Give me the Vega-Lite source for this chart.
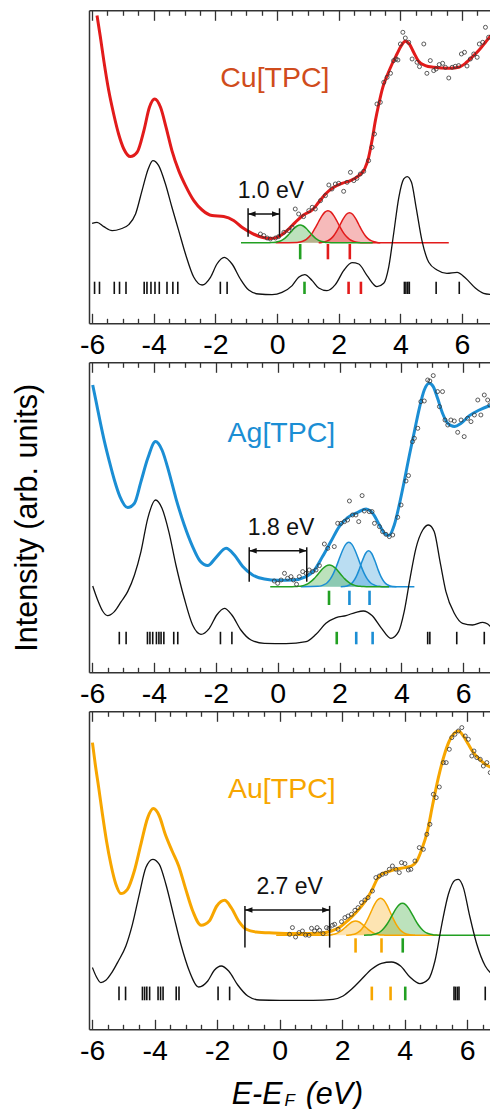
{
"$schema": "https://vega.github.io/schema/vega-lite/v6.json",
"padding": {"left": 12, "top": 9.3, "right": 0, "bottom": 0},
"spacing": 1,
"config": {"view": {"stroke": null}, "font": "Liberation Sans", "axis": {"grid": false}},
"datasets": {
"cu_line": [{"x":-5.84,"y":307.7},{"x":-5.73,"y":286},{"x":-5.62,"y":262.7},{"x":-5.46,"y":232.7},{"x":-5.3,"y":209.3},{"x":-5.14,"y":189.3},{"x":-4.97,"y":174.3},{"x":-4.76,"y":166.7},{"x":-4.54,"y":171},{"x":-4.32,"y":192.7},{"x":-4.14,"y":216},{"x":-3.97,"y":224.3},{"x":-3.78,"y":216},{"x":-3.6,"y":196},{"x":-3.41,"y":172.7},{"x":-3.19,"y":152.7},{"x":-2.97,"y":137.7},{"x":-2.7,"y":122.7},{"x":-2.43,"y":113.3},{"x":-2.11,"y":107.7},{"x":-1.73,"y":106.7},{"x":-1.41,"y":102.7},{"x":-1.14,"y":96},{"x":-0.81,"y":90},{"x":-0.49,"y":86},{"x":-0.22,"y":84.7},{"x":0.05,"y":86.7},{"x":0.32,"y":92.7},{"x":0.59,"y":101},{"x":0.86,"y":108.3},{"x":1.14,"y":113.3},{"x":1.35,"y":121},{"x":1.57,"y":129.3},{"x":1.84,"y":136},{"x":2.11,"y":140},{"x":2.38,"y":142.7},{"x":2.65,"y":147.7},{"x":2.84,"y":154.3},{"x":2.97,"y":166},{"x":3.08,"y":182.7},{"x":3.19,"y":202.7},{"x":3.3,"y":219.3},{"x":3.43,"y":236},{"x":3.57,"y":247.7},{"x":3.73,"y":259.3},{"x":3.89,"y":269.3},{"x":4.03,"y":277.7},{"x":4.16,"y":282},{"x":4.29,"y":279.3},{"x":4.43,"y":271},{"x":4.59,"y":262},{"x":4.81,"y":257.7},{"x":5.08,"y":256},{"x":5.35,"y":255.3},{"x":5.62,"y":255},{"x":5.89,"y":256},{"x":6.11,"y":260},{"x":6.32,"y":266},{"x":6.54,"y":272.7},{"x":6.76,"y":281},{"x":6.93,"y":287.7},{"x":7.08,"y":292.7}],
"cu_dos": [{"x":-6.0,"y":100},{"x":-5.84,"y":101},{"x":-5.62,"y":96.7},{"x":-5.35,"y":92.7},{"x":-5.08,"y":94.3},{"x":-4.81,"y":98.7},{"x":-4.59,"y":109.3},{"x":-4.38,"y":132.7},{"x":-4.18,"y":154.3},{"x":-4.03,"y":162.7},{"x":-3.84,"y":157.7},{"x":-3.62,"y":139.3},{"x":-3.41,"y":116},{"x":-3.19,"y":92.7},{"x":-2.97,"y":69.3},{"x":-2.7,"y":46},{"x":-2.43,"y":38.3},{"x":-2.16,"y":46},{"x":-1.95,"y":59.3},{"x":-1.71,"y":66},{"x":-1.46,"y":59.3},{"x":-1.19,"y":44.3},{"x":-0.92,"y":33.3},{"x":-0.59,"y":29.3},{"x":-0.16,"y":28.7},{"x":0.16,"y":31},{"x":0.49,"y":37.7},{"x":0.7,"y":46},{"x":0.9,"y":48.7},{"x":1.14,"y":42.7},{"x":1.35,"y":35.3},{"x":1.62,"y":32.7},{"x":1.89,"y":38.7},{"x":2.16,"y":52.7},{"x":2.43,"y":60.7},{"x":2.65,"y":59.3},{"x":2.92,"y":47.7},{"x":3.24,"y":36.7},{"x":3.46,"y":40},{"x":3.62,"y":56},{"x":3.78,"y":89.3},{"x":3.95,"y":126},{"x":4.11,"y":144.3},{"x":4.22,"y":146.7},{"x":4.36,"y":141},{"x":4.51,"y":116},{"x":4.7,"y":82.7},{"x":4.92,"y":61},{"x":5.19,"y":53.3},{"x":5.51,"y":50},{"x":5.84,"y":51},{"x":6.11,"y":45.3},{"x":6.43,"y":35.3},{"x":6.7,"y":30},{"x":6.97,"y":28.7}],
"cu_pts": [{"x":-0.54,"y":89.3},{"x":-0.43,"y":87.7},{"x":-0.32,"y":85.3},{"x":-0.22,"y":84.3},{"x":-0.05,"y":85.3},{"x":0.05,"y":86.7},{"x":0.22,"y":91},{"x":0.38,"y":92.7},{"x":0.49,"y":96},{"x":0.59,"y":114.3},{"x":0.7,"y":109.3},{"x":0.86,"y":106.7},{"x":1.03,"y":112.7},{"x":1.14,"y":116},{"x":1.24,"y":114.3},{"x":1.41,"y":122.7},{"x":1.57,"y":127.7},{"x":1.68,"y":138.3},{"x":1.78,"y":134.3},{"x":1.89,"y":139.3},{"x":2.0,"y":140},{"x":2.16,"y":132},{"x":2.27,"y":141},{"x":2.38,"y":151},{"x":2.49,"y":142.7},{"x":2.59,"y":145},{"x":2.7,"y":149.3},{"x":2.81,"y":152},{"x":2.97,"y":162.7},{"x":3.08,"y":176},{"x":3.16,"y":189.3},{"x":3.24,"y":219.3},{"x":3.35,"y":221},{"x":3.46,"y":241},{"x":3.57,"y":246},{"x":3.68,"y":250},{"x":3.78,"y":262.7},{"x":3.86,"y":264.3},{"x":3.92,"y":263.3},{"x":4.0,"y":279.3},{"x":4.08,"y":291},{"x":4.16,"y":285.3},{"x":4.27,"y":281},{"x":4.38,"y":264.3},{"x":4.54,"y":261},{"x":4.62,"y":256.7},{"x":4.76,"y":279.3},{"x":4.86,"y":250},{"x":4.97,"y":262.7},{"x":5.08,"y":252.7},{"x":5.16,"y":254.3},{"x":5.26,"y":258.7},{"x":5.37,"y":260},{"x":5.46,"y":256},{"x":5.57,"y":245.3},{"x":5.68,"y":256},{"x":5.78,"y":257},{"x":5.89,"y":257.7},{"x":5.98,"y":269.3},{"x":6.08,"y":271},{"x":6.16,"y":257.3},{"x":6.27,"y":264.3},{"x":6.38,"y":269.3},{"x":6.49,"y":266},{"x":6.56,"y":279.3},{"x":6.67,"y":281},{"x":6.76,"y":296},{"x":6.86,"y":286}],
"cu_gauss": [
{"pk":"cu1","band":"Cu","x":-0.05,"y":80.6},{"pk":"cu1","band":"Cu","x":0.65,"y":80.9},{"pk":"cu1","band":"Cu","x":0.75,"y":81.4},{"pk":"cu1","band":"Cu","x":0.85,"y":82.3},{"pk":"cu1","band":"Cu","x":0.95,"y":84.0},{"pk":"cu1","band":"Cu","x":1.05,"y":86.7},{"pk":"cu1","band":"Cu","x":1.15,"y":90.7},{"pk":"cu1","band":"Cu","x":1.25,"y":96.0},{"pk":"cu1","band":"Cu","x":1.35,"y":101.8},{"pk":"cu1","band":"Cu","x":1.45,"y":107.2},{"pk":"cu1","band":"Cu","x":1.55,"y":111.2},{"pk":"cu1","band":"Cu","x":1.65,"y":112.6},{"pk":"cu1","band":"Cu","x":1.75,"y":111.2},{"pk":"cu1","band":"Cu","x":1.85,"y":107.2},{"pk":"cu1","band":"Cu","x":1.95,"y":101.8},{"pk":"cu1","band":"Cu","x":2.05,"y":96.0},{"pk":"cu1","band":"Cu","x":2.15,"y":90.7},{"pk":"cu1","band":"Cu","x":2.25,"y":86.7},{"pk":"cu1","band":"Cu","x":2.35,"y":84.0},{"pk":"cu1","band":"Cu","x":2.45,"y":82.3},{"pk":"cu1","band":"Cu","x":2.55,"y":81.4},{"pk":"cu1","band":"Cu","x":2.65,"y":80.9},{"pk":"cu1","band":"Cu","x":2.75,"y":80.6},{"pk":"cu1","band":"Cu","x":5.57,"y":80.6},
{"pk":"cu2","band":"Cu","x":1.35,"y":80.6},{"pk":"cu2","band":"Cu","x":1.45,"y":80.9},{"pk":"cu2","band":"Cu","x":1.55,"y":81.5},{"pk":"cu2","band":"Cu","x":1.65,"y":82.6},{"pk":"cu2","band":"Cu","x":1.75,"y":84.7},{"pk":"cu2","band":"Cu","x":1.85,"y":88.1},{"pk":"cu2","band":"Cu","x":1.95,"y":92.9},{"pk":"cu2","band":"Cu","x":2.05,"y":98.8},{"pk":"cu2","band":"Cu","x":2.15,"y":104.6},{"pk":"cu2","band":"Cu","x":2.25,"y":109.0},{"pk":"cu2","band":"Cu","x":2.35,"y":110.6},{"pk":"cu2","band":"Cu","x":2.45,"y":109.0},{"pk":"cu2","band":"Cu","x":2.55,"y":104.6},{"pk":"cu2","band":"Cu","x":2.65,"y":98.8},{"pk":"cu2","band":"Cu","x":2.75,"y":92.9},{"pk":"cu2","band":"Cu","x":2.85,"y":88.1},{"pk":"cu2","band":"Cu","x":2.95,"y":84.7},{"pk":"cu2","band":"Cu","x":3.05,"y":82.6},{"pk":"cu2","band":"Cu","x":3.15,"y":81.5},{"pk":"cu2","band":"Cu","x":3.25,"y":80.9},{"pk":"cu2","band":"Cu","x":3.35,"y":80.6},
{"pk":"cug","band":"green","x":-1.17,"y":80.6},{"pk":"cug","band":"green","x":-0.25,"y":80.6},{"pk":"cug","band":"green","x":-0.15,"y":80.8},{"pk":"cug","band":"green","x":-0.05,"y":81.1},{"pk":"cug","band":"green","x":0.05,"y":81.8},{"pk":"cug","band":"green","x":0.15,"y":83.0},{"pk":"cug","band":"green","x":0.25,"y":85.0},{"pk":"cug","band":"green","x":0.35,"y":87.9},{"pk":"cug","band":"green","x":0.45,"y":91.3},{"pk":"cug","band":"green","x":0.55,"y":94.8},{"pk":"cug","band":"green","x":0.65,"y":97.3},{"pk":"cug","band":"green","x":0.75,"y":98.3},{"pk":"cug","band":"green","x":0.85,"y":97.3},{"pk":"cug","band":"green","x":0.95,"y":94.8},{"pk":"cug","band":"green","x":1.05,"y":91.3},{"pk":"cug","band":"green","x":1.15,"y":87.9},{"pk":"cug","band":"green","x":1.25,"y":85.0},{"pk":"cug","band":"green","x":1.35,"y":83.0},{"pk":"cug","band":"green","x":1.45,"y":81.8},{"pk":"cug","band":"green","x":1.55,"y":81.1},{"pk":"cug","band":"green","x":1.65,"y":80.8},{"pk":"cug","band":"green","x":1.75,"y":80.6},{"pk":"cug","band":"green","x":3.1,"y":80.6}],
"cu_sb": [{"x":-5.92},{"x":-5.76},{"x":-5.28},{"x":-5.11},{"x":-4.9},{"x":-4.31},{"x":-4.22},{"x":-4.09},{"x":-3.96},{"x":-3.82},{"x":-3.57},{"x":-3.38},{"x":-3.22},{"x":-1.84},{"x":-1.62},{"x":4.13},{"x":4.18},{"x":4.24},{"x":4.29},{"x":5.16},{"x":5.91}],
"cu_sc": [{"x":0.89,"band":"green"},{"x":2.32,"band":"Cu"},{"x":2.72,"band":"Cu"}],
"cu_su": [{"x":0.75,"band":"green"},{"x":1.65,"band":"Cu"},{"x":2.36,"band":"Cu"}],
"cu_brk": [{"x":-0.94,"end":"left"},{"x":0.08,"end":"right"}],
"cu_lab": [{"x":-0.2,"text":"1.0 eV"}],
"cu_name": [{"x":-0.07,"text":"Cu[TPC]"}],
"ag_line": [{"x":-5.98,"y":287.3},{"x":-5.87,"y":270.7},{"x":-5.74,"y":250.7},{"x":-5.6,"y":230.7},{"x":-5.44,"y":210.7},{"x":-5.28,"y":192.3},{"x":-5.1,"y":175.7},{"x":-4.85,"y":164.7},{"x":-4.63,"y":169},{"x":-4.42,"y":190.7},{"x":-4.2,"y":214},{"x":-3.95,"y":230.7},{"x":-3.74,"y":222.3},{"x":-3.52,"y":200.7},{"x":-3.29,"y":174},{"x":-3.02,"y":147.3},{"x":-2.75,"y":125.7},{"x":-2.51,"y":111.3},{"x":-2.26,"y":106.7},{"x":-1.99,"y":115},{"x":-1.67,"y":124},{"x":-1.4,"y":117.3},{"x":-1.13,"y":105.7},{"x":-0.81,"y":97.3},{"x":-0.43,"y":93.3},{"x":0.0,"y":92},{"x":0.48,"y":92.3},{"x":0.92,"y":95.7},{"x":1.19,"y":102.3},{"x":1.45,"y":115.7},{"x":1.72,"y":130.7},{"x":1.99,"y":145.7},{"x":2.26,"y":154.7},{"x":2.59,"y":160},{"x":2.86,"y":163.3},{"x":3.07,"y":159},{"x":3.29,"y":147.3},{"x":3.45,"y":139},{"x":3.59,"y":136.7},{"x":3.77,"y":147.3},{"x":3.93,"y":167.3},{"x":4.09,"y":190.7},{"x":4.26,"y":217.3},{"x":4.42,"y":240.7},{"x":4.58,"y":264},{"x":4.74,"y":282.3},{"x":4.9,"y":289},{"x":5.03,"y":285.7},{"x":5.17,"y":274},{"x":5.33,"y":259},{"x":5.5,"y":249},{"x":5.71,"y":245.7},{"x":5.93,"y":249},{"x":6.2,"y":256.7},{"x":6.52,"y":262.3},{"x":6.91,"y":267.3},{"x":7.06,"y":269}],
"ag_dos": [{"x":-5.98,"y":86.3},{"x":-5.82,"y":72.3},{"x":-5.66,"y":61.3},{"x":-5.5,"y":56.7},{"x":-5.28,"y":60.7},{"x":-5.06,"y":70.7},{"x":-4.85,"y":80.7},{"x":-4.63,"y":97.3},{"x":-4.42,"y":120.7},{"x":-4.2,"y":154},{"x":-3.95,"y":172.3},{"x":-3.74,"y":164},{"x":-3.52,"y":140.7},{"x":-3.29,"y":107.3},{"x":-3.02,"y":74},{"x":-2.75,"y":47.3},{"x":-2.48,"y":38},{"x":-2.21,"y":44},{"x":-1.97,"y":57.3},{"x":-1.72,"y":64},{"x":-1.48,"y":57.3},{"x":-1.19,"y":42.3},{"x":-0.86,"y":32.3},{"x":-0.43,"y":29},{"x":0.27,"y":28.7},{"x":0.92,"y":30.7},{"x":1.24,"y":38},{"x":1.56,"y":49},{"x":1.89,"y":54.7},{"x":2.21,"y":56.7},{"x":2.53,"y":60},{"x":2.77,"y":61.3},{"x":3.05,"y":56.7},{"x":3.34,"y":44.7},{"x":3.66,"y":34},{"x":3.91,"y":40.7},{"x":4.09,"y":60.7},{"x":4.28,"y":94},{"x":4.47,"y":124},{"x":4.69,"y":142.3},{"x":4.88,"y":147.3},{"x":5.06,"y":140.7},{"x":5.25,"y":110.7},{"x":5.44,"y":80.7},{"x":5.71,"y":59},{"x":5.98,"y":49},{"x":6.3,"y":47.3},{"x":6.63,"y":50},{"x":6.79,"y":48.3},{"x":6.95,"y":43.3}],
"ag_pts": [{"x":-0.11,"y":91.3},{"x":0.0,"y":89},{"x":0.11,"y":92.3},{"x":0.22,"y":99},{"x":0.32,"y":94},{"x":0.43,"y":95.7},{"x":0.51,"y":92.3},{"x":0.61,"y":88},{"x":0.7,"y":95.7},{"x":0.81,"y":100.7},{"x":0.92,"y":99},{"x":1.02,"y":102.3},{"x":1.13,"y":100.7},{"x":1.24,"y":102.3},{"x":1.35,"y":106.7},{"x":1.51,"y":128.3},{"x":1.62,"y":124},{"x":1.83,"y":125.7},{"x":1.94,"y":149},{"x":2.05,"y":149},{"x":2.16,"y":150.7},{"x":2.26,"y":152.3},{"x":2.32,"y":171.3},{"x":2.42,"y":157.3},{"x":2.53,"y":157.3},{"x":2.62,"y":150.7},{"x":2.73,"y":176.7},{"x":2.8,"y":161.3},{"x":2.96,"y":160.7},{"x":3.05,"y":160.7},{"x":3.13,"y":149},{"x":3.29,"y":145.7},{"x":3.39,"y":140.7},{"x":3.5,"y":138},{"x":3.61,"y":135.7},{"x":3.72,"y":137.3},{"x":3.88,"y":155},{"x":3.99,"y":167.3},{"x":4.15,"y":191.3},{"x":4.23,"y":196.7},{"x":4.36,"y":230.7},{"x":4.42,"y":234},{"x":4.53,"y":244},{"x":4.63,"y":270.7},{"x":4.74,"y":271.3},{"x":4.85,"y":292.3},{"x":4.92,"y":291.3},{"x":5.03,"y":296.7},{"x":5.17,"y":280.7},{"x":5.23,"y":265.7},{"x":5.33,"y":280.7},{"x":5.41,"y":252.3},{"x":5.5,"y":247.3},{"x":5.6,"y":252.3},{"x":5.71,"y":251.3},{"x":5.82,"y":240},{"x":5.93,"y":252.3},{"x":6.03,"y":235.7},{"x":6.14,"y":254},{"x":6.25,"y":250.7},{"x":6.36,"y":257.3},{"x":6.47,"y":272.3},{"x":6.57,"y":257.3},{"x":6.68,"y":277.3},{"x":6.79,"y":272.3},{"x":6.86,"y":267.3}],
"ag_gauss": [
{"pk":"ag1","band":"Ag","x":0.75,"y":85.6},{"pk":"ag1","band":"Ag","x":1.3,"y":86.0},{"pk":"ag1","band":"Ag","x":1.4,"y":86.4},{"pk":"ag1","band":"Ag","x":1.5,"y":87.6},{"pk":"ag1","band":"Ag","x":1.6,"y":89.6},{"pk":"ag1","band":"Ag","x":1.7,"y":93.2},{"pk":"ag1","band":"Ag","x":1.8,"y":98.7},{"pk":"ag1","band":"Ag","x":1.9,"y":105.9},{"pk":"ag1","band":"Ag","x":2.0,"y":114.2},{"pk":"ag1","band":"Ag","x":2.1,"y":122.1},{"pk":"ag1","band":"Ag","x":2.2,"y":127.9},{"pk":"ag1","band":"Ag","x":2.3,"y":130.0},{"pk":"ag1","band":"Ag","x":2.4,"y":127.9},{"pk":"ag1","band":"Ag","x":2.5,"y":122.1},{"pk":"ag1","band":"Ag","x":2.6,"y":114.2},{"pk":"ag1","band":"Ag","x":2.7,"y":105.9},{"pk":"ag1","band":"Ag","x":2.8,"y":98.7},{"pk":"ag1","band":"Ag","x":2.9,"y":93.2},{"pk":"ag1","band":"Ag","x":3.0,"y":89.6},{"pk":"ag1","band":"Ag","x":3.1,"y":87.6},{"pk":"ag1","band":"Ag","x":3.2,"y":86.4},{"pk":"ag1","band":"Ag","x":3.3,"y":86.0},{"pk":"ag1","band":"Ag","x":3.4,"y":85.6},{"pk":"ag1","band":"Ag","x":4.42,"y":85.6},
{"pk":"ag2","band":"Ag","x":2.04,"y":85.6},{"pk":"ag2","band":"Ag","x":2.14,"y":85.8},{"pk":"ag2","band":"Ag","x":2.24,"y":86.3},{"pk":"ag2","band":"Ag","x":2.34,"y":87.6},{"pk":"ag2","band":"Ag","x":2.44,"y":90.5},{"pk":"ag2","band":"Ag","x":2.54,"y":95.6},{"pk":"ag2","band":"Ag","x":2.64,"y":103.1},{"pk":"ag2","band":"Ag","x":2.74,"y":111.7},{"pk":"ag2","band":"Ag","x":2.84,"y":118.8},{"pk":"ag2","band":"Ag","x":2.94,"y":121.6},{"pk":"ag2","band":"Ag","x":3.04,"y":118.8},{"pk":"ag2","band":"Ag","x":3.14,"y":111.7},{"pk":"ag2","band":"Ag","x":3.24,"y":103.1},{"pk":"ag2","band":"Ag","x":3.34,"y":95.6},{"pk":"ag2","band":"Ag","x":3.44,"y":90.5},{"pk":"ag2","band":"Ag","x":3.54,"y":87.6},{"pk":"ag2","band":"Ag","x":3.64,"y":86.3},{"pk":"ag2","band":"Ag","x":3.74,"y":85.8},{"pk":"ag2","band":"Ag","x":3.84,"y":85.6},
{"pk":"agg","band":"green","x":-0.24,"y":85.6},{"pk":"agg","band":"green","x":0.47,"y":85.6},{"pk":"agg","band":"green","x":0.57,"y":85.75},{"pk":"agg","band":"green","x":0.67,"y":86.0},{"pk":"agg","band":"green","x":0.77,"y":86.4},{"pk":"agg","band":"green","x":0.87,"y":87.2},{"pk":"agg","band":"green","x":0.97,"y":88.5},{"pk":"agg","band":"green","x":1.07,"y":90.6},{"pk":"agg","band":"green","x":1.17,"y":93.4},{"pk":"agg","band":"green","x":1.27,"y":96.9},{"pk":"agg","band":"green","x":1.37,"y":100.6},{"pk":"agg","band":"green","x":1.47,"y":104.0},{"pk":"agg","band":"green","x":1.57,"y":106.4},{"pk":"agg","band":"green","x":1.67,"y":107.3},{"pk":"agg","band":"green","x":1.77,"y":106.4},{"pk":"agg","band":"green","x":1.87,"y":104.0},{"pk":"agg","band":"green","x":1.97,"y":100.6},{"pk":"agg","band":"green","x":2.07,"y":96.9},{"pk":"agg","band":"green","x":2.17,"y":93.4},{"pk":"agg","band":"green","x":2.27,"y":90.6},{"pk":"agg","band":"green","x":2.37,"y":88.5},{"pk":"agg","band":"green","x":2.47,"y":87.2},{"pk":"agg","band":"green","x":2.57,"y":86.4},{"pk":"agg","band":"green","x":2.67,"y":86.0},{"pk":"agg","band":"green","x":2.77,"y":85.75},{"pk":"agg","band":"green","x":2.87,"y":85.6},{"pk":"agg","band":"green","x":3.6,"y":85.6}],
"ag_sb": [{"x":-5.12},{"x":-4.9},{"x":-4.21},{"x":-4.13},{"x":-4.04},{"x":-3.92},{"x":-3.84},{"x":-3.77},{"x":-3.68},{"x":-3.36},{"x":-3.23},{"x":-1.85},{"x":-1.48},{"x":4.85},{"x":4.92},{"x":5.79},{"x":6.68}],
"ag_sc": [{"x":1.91,"band":"green"},{"x":2.54,"band":"Ag"},{"x":3.07,"band":"Ag"}],
"ag_su": [{"x":1.66,"band":"green"},{"x":2.32,"band":"Ag"},{"x":2.97,"band":"Ag"}],
"ag_brk": [{"x":-0.92,"end":"left"},{"x":0.94,"end":"right"}],
"ag_lab": [{"x":0.11,"text":"1.8 eV"}],
"ag_name": [{"x":0.12,"text":"Ag[TPC]"}],
"au_line": [{"x":-5.99,"y":286.7},{"x":-5.9,"y":265},{"x":-5.79,"y":241.7},{"x":-5.67,"y":215},{"x":-5.54,"y":188.3},{"x":-5.4,"y":165},{"x":-5.24,"y":145},{"x":-5.08,"y":135.7},{"x":-4.87,"y":140},{"x":-4.65,"y":158.3},{"x":-4.44,"y":185},{"x":-4.22,"y":211.7},{"x":-4.04,"y":220.7},{"x":-3.85,"y":213.3},{"x":-3.66,"y":195},{"x":-3.44,"y":178.3},{"x":-3.23,"y":163.3},{"x":-3.02,"y":141.7},{"x":-2.78,"y":118.3},{"x":-2.51,"y":104},{"x":-2.25,"y":108.3},{"x":-2.01,"y":123.3},{"x":-1.76,"y":129},{"x":-1.55,"y":121.7},{"x":-1.3,"y":107.7},{"x":-1.07,"y":100},{"x":-0.75,"y":97.3},{"x":-0.21,"y":96.3},{"x":0.53,"y":95.7},{"x":1.28,"y":96},{"x":1.66,"y":98.3},{"x":1.93,"y":102.3},{"x":2.19,"y":109},{"x":2.46,"y":117.3},{"x":2.73,"y":127.7},{"x":2.94,"y":138.3},{"x":3.12,"y":150},{"x":3.26,"y":155},{"x":3.48,"y":157.7},{"x":3.74,"y":160.3},{"x":4.01,"y":161.7},{"x":4.22,"y":163.3},{"x":4.39,"y":168.3},{"x":4.55,"y":180},{"x":4.73,"y":198.3},{"x":4.9,"y":225},{"x":5.08,"y":251.7},{"x":5.26,"y":273.3},{"x":5.43,"y":288.3},{"x":5.58,"y":295.7},{"x":5.72,"y":298.3},{"x":5.88,"y":293.3},{"x":6.04,"y":285},{"x":6.2,"y":276.7},{"x":6.4,"y":270},{"x":6.58,"y":265},{"x":6.8,"y":261.7}],
"au_dos": [{"x":-5.99,"y":61.7},{"x":-5.86,"y":52.3},{"x":-5.72,"y":46.7},{"x":-5.56,"y":49},{"x":-5.37,"y":56.7},{"x":-5.16,"y":68.3},{"x":-4.92,"y":83.3},{"x":-4.71,"y":105},{"x":-4.49,"y":135},{"x":-4.28,"y":161.7},{"x":-4.06,"y":170},{"x":-3.85,"y":165},{"x":-3.64,"y":145},{"x":-3.4,"y":115},{"x":-3.16,"y":85},{"x":-2.89,"y":58.3},{"x":-2.59,"y":42.3},{"x":-2.3,"y":48.3},{"x":-2.09,"y":59},{"x":-1.87,"y":63.3},{"x":-1.63,"y":58.3},{"x":-1.34,"y":44.3},{"x":-1.02,"y":33.3},{"x":-0.64,"y":29.3},{"x":0.0,"y":29},{"x":1.07,"y":29},{"x":1.71,"y":30},{"x":2.03,"y":33.3},{"x":2.3,"y":40},{"x":2.62,"y":50},{"x":2.94,"y":60},{"x":3.26,"y":66},{"x":3.58,"y":67.3},{"x":3.87,"y":63.3},{"x":4.17,"y":52.3},{"x":4.49,"y":45.7},{"x":4.76,"y":50},{"x":4.97,"y":68.3},{"x":5.19,"y":105},{"x":5.4,"y":135},{"x":5.61,"y":149},{"x":5.72,"y":150},{"x":5.88,"y":141.7},{"x":6.07,"y":115},{"x":6.31,"y":85},{"x":6.58,"y":63.3},{"x":6.8,"y":55}],
"au_pts": [{"x":0.32,"y":95},{"x":0.41,"y":101.7},{"x":0.51,"y":92.3},{"x":0.62,"y":96.7},{"x":0.73,"y":98.3},{"x":0.83,"y":94.3},{"x":0.94,"y":94},{"x":1.02,"y":101},{"x":1.12,"y":98.3},{"x":1.2,"y":101.7},{"x":1.28,"y":99},{"x":1.39,"y":95.7},{"x":1.5,"y":101.7},{"x":1.58,"y":101},{"x":1.69,"y":104},{"x":1.76,"y":105},{"x":1.87,"y":100},{"x":1.98,"y":107.7},{"x":2.09,"y":111.7},{"x":2.19,"y":113.3},{"x":2.3,"y":115},{"x":2.41,"y":119},{"x":2.51,"y":121.7},{"x":2.62,"y":126.7},{"x":2.73,"y":129.3},{"x":2.83,"y":131.7},{"x":2.97,"y":138.3},{"x":3.08,"y":151.7},{"x":3.19,"y":153.3},{"x":3.29,"y":155},{"x":3.4,"y":156},{"x":3.51,"y":160},{"x":3.61,"y":163.3},{"x":3.72,"y":160},{"x":3.83,"y":156.7},{"x":3.9,"y":166.7},{"x":4.01,"y":165.7},{"x":4.12,"y":159.3},{"x":4.2,"y":160},{"x":4.33,"y":168.3},{"x":4.47,"y":181.7},{"x":4.6,"y":180},{"x":4.71,"y":195},{"x":4.81,"y":205},{"x":4.92,"y":235},{"x":5.01,"y":231.7},{"x":5.11,"y":242.3},{"x":5.24,"y":266.7},{"x":5.33,"y":266.7},{"x":5.43,"y":280},{"x":5.51,"y":291.7},{"x":5.61,"y":295},{"x":5.72,"y":298.3},{"x":5.83,"y":301.7},{"x":5.94,"y":293.3},{"x":6.04,"y":290},{"x":6.15,"y":273.3},{"x":6.22,"y":278.3},{"x":6.31,"y":271.7},{"x":6.42,"y":270},{"x":6.52,"y":263.3},{"x":6.63,"y":266.7},{"x":6.74,"y":256.7}],
"au_gauss": [
{"pk":"au1","band":"Au","x":-0.11,"y":94},{"pk":"au1","band":"Au","x":1.43,"y":94},{"pk":"au1","band":"Au","x":1.53,"y":94.2},{"pk":"au1","band":"Au","x":1.63,"y":94.4},{"pk":"au1","band":"Au","x":1.73,"y":95.0},{"pk":"au1","band":"Au","x":1.83,"y":95.9},{"pk":"au1","band":"Au","x":1.93,"y":97.6},{"pk":"au1","band":"Au","x":2.03,"y":99.9},{"pk":"au1","band":"Au","x":2.13,"y":102.7},{"pk":"au1","band":"Au","x":2.23,"y":105.5},{"pk":"au1","band":"Au","x":2.33,"y":107.6},{"pk":"au1","band":"Au","x":2.43,"y":108.4},{"pk":"au1","band":"Au","x":2.53,"y":107.6},{"pk":"au1","band":"Au","x":2.63,"y":105.5},{"pk":"au1","band":"Au","x":2.73,"y":102.7},{"pk":"au1","band":"Au","x":2.83,"y":99.9},{"pk":"au1","band":"Au","x":2.93,"y":97.6},{"pk":"au1","band":"Au","x":3.03,"y":95.9},{"pk":"au1","band":"Au","x":3.13,"y":95.0},{"pk":"au1","band":"Au","x":3.23,"y":94.4},{"pk":"au1","band":"Au","x":3.33,"y":94.2},{"pk":"au1","band":"Au","x":3.43,"y":94},{"pk":"au1","band":"Au","x":5.12,"y":94},
{"pk":"au2","band":"Au","x":2.13,"y":94},{"pk":"au2","band":"Au","x":2.23,"y":94.3},{"pk":"au2","band":"Au","x":2.33,"y":94.7},{"pk":"au2","band":"Au","x":2.43,"y":95.6},{"pk":"au2","band":"Au","x":2.53,"y":97.4},{"pk":"au2","band":"Au","x":2.63,"y":100.4},{"pk":"au2","band":"Au","x":2.73,"y":104.9},{"pk":"au2","band":"Au","x":2.83,"y":110.9},{"pk":"au2","band":"Au","x":2.93,"y":117.8},{"pk":"au2","band":"Au","x":3.03,"y":124.5},{"pk":"au2","band":"Au","x":3.13,"y":129.2},{"pk":"au2","band":"Au","x":3.23,"y":131},{"pk":"au2","band":"Au","x":3.33,"y":129.2},{"pk":"au2","band":"Au","x":3.43,"y":124.5},{"pk":"au2","band":"Au","x":3.53,"y":117.8},{"pk":"au2","band":"Au","x":3.63,"y":110.9},{"pk":"au2","band":"Au","x":3.73,"y":104.9},{"pk":"au2","band":"Au","x":3.83,"y":100.4},{"pk":"au2","band":"Au","x":3.93,"y":97.4},{"pk":"au2","band":"Au","x":4.03,"y":95.6},{"pk":"au2","band":"Au","x":4.13,"y":94.7},{"pk":"au2","band":"Au","x":4.23,"y":94.3},{"pk":"au2","band":"Au","x":4.33,"y":94.0},
{"pk":"aug","band":"green","x":2.7,"y":94},{"pk":"aug","band":"green","x":2.83,"y":94.2},{"pk":"aug","band":"green","x":2.93,"y":94.4},{"pk":"aug","band":"green","x":3.03,"y":95.0},{"pk":"aug","band":"green","x":3.13,"y":96.0},{"pk":"aug","band":"green","x":3.23,"y":97.8},{"pk":"aug","band":"green","x":3.33,"y":100.8},{"pk":"aug","band":"green","x":3.43,"y":104.8},{"pk":"aug","band":"green","x":3.53,"y":110.0},{"pk":"aug","band":"green","x":3.63,"y":115.7},{"pk":"aug","band":"green","x":3.73,"y":120.9},{"pk":"aug","band":"green","x":3.83,"y":124.7},{"pk":"aug","band":"green","x":3.93,"y":126},{"pk":"aug","band":"green","x":4.03,"y":124.7},{"pk":"aug","band":"green","x":4.13,"y":120.9},{"pk":"aug","band":"green","x":4.23,"y":115.7},{"pk":"aug","band":"green","x":4.33,"y":110.0},{"pk":"aug","band":"green","x":4.43,"y":104.8},{"pk":"aug","band":"green","x":4.53,"y":100.8},{"pk":"aug","band":"green","x":4.63,"y":97.8},{"pk":"aug","band":"green","x":4.73,"y":96.0},{"pk":"aug","band":"green","x":4.83,"y":95.0},{"pk":"aug","band":"green","x":4.93,"y":94.4},{"pk":"aug","band":"green","x":5.03,"y":94.2},{"pk":"aug","band":"green","x":5.13,"y":94},{"pk":"aug","band":"green","x":7.0,"y":94}],
"au_sb": [{"x":-5.14},{"x":-4.93},{"x":-4.39},{"x":-4.32},{"x":-4.25},{"x":-4.16},{"x":-3.89},{"x":-3.81},{"x":-3.73},{"x":-3.31},{"x":-3.22},{"x":-1.97},{"x":-1.6},{"x":5.58},{"x":5.63},{"x":5.69},{"x":5.74},{"x":6.58}],
"au_sc": [{"x":2.95,"band":"Au"},{"x":3.55,"band":"Au"},{"x":4.02,"band":"green"}],
"au_su": [{"x":2.43,"band":"Au"},{"x":3.26,"band":"Au"},{"x":3.94,"band":"green"}],
"au_brk": [{"x":-1.11,"end":"left"},{"x":1.6,"end":"right"}],
"au_lab": [{"x":0.32,"text":"2.7 eV"}],
"au_name": [{"x":0.07,"text":"Au[TPC]"}],
"au_sub": [{"x":0.32,"text":"F"}]
},
"vconcat": [
{
"width": 401, "height": 313,
"resolve": {"axis": {"x": "independent", "y": "independent"}},
"layer": [
{"data": {"name": "cu_gauss"}, "mark": {"type": "area", "fillOpacity": 0.3, "interpolate": "monotone", "clip": true},
 "encoding": {"x": {"field": "x", "type": "quantitative", "scale": {"domain": [-6.1, 6.907], "nice": false, "zero": false}, "axis": null},
  "y": {"field": "y", "type": "quantitative", "stack": null, "scale": {"domain": [0, 313], "nice": false, "zero": false}, "axis": null},
  "y2": {"datum": 80.6},
  "color": {"field": "band", "type": "nominal", "scale": {"domain": ["green","Cu","Ag","Au"], "range": ["#22a022","#e21b1b","#1b8ed4","#f7a600"]}, "legend": null},
  "detail": {"field": "pk"}}},
{"data": {"name": "cu_gauss"}, "mark": {"type": "line", "strokeWidth": 1.5, "interpolate": "monotone", "clip": true},
 "encoding": {"x": {"field": "x", "type": "quantitative", "scale": {"domain": [-6.1, 6.907], "nice": false, "zero": false}, "axis": null},
  "y": {"field": "y", "type": "quantitative", "scale": {"domain": [0, 313], "nice": false, "zero": false}, "axis": null},
  "color": {"field": "band", "type": "nominal", "scale": {"domain": ["green","Cu","Ag","Au"], "range": ["#22a022","#e21b1b","#1b8ed4","#f7a600"]}, "legend": null},
  "detail": {"field": "pk"}}},
{"data": {"name": "cu_su"}, "mark": {"type": "rule", "strokeWidth": 2.6},
 "encoding": {"x": {"field": "x", "type": "quantitative", "scale": {"domain": [-6.1, 6.907], "nice": false, "zero": false}, "axis": null},
  "y": {"datum": 64, "type": "quantitative", "scale": {"domain": [0, 313], "nice": false, "zero": false}, "axis": null}, "y2": {"datum": 79.3},
  "color": {"field": "band", "type": "nominal", "scale": {"domain": ["green","Cu","Ag","Au"], "range": ["#22a022","#e21b1b","#1b8ed4","#f7a600"]}, "legend": null}}},
{"data": {"name": "cu_sb"}, "mark": {"type": "rule", "strokeWidth": 1.6, "color": "#111"},
 "encoding": {"x": {"field": "x", "type": "quantitative", "scale": {"domain": [-6.1, 6.907], "nice": false, "zero": false}, "axis": null},
  "y": {"datum": 29.3, "type": "quantitative", "scale": {"domain": [0, 313], "nice": false, "zero": false}, "axis": null}, "y2": {"datum": 41.6}}},
{"data": {"name": "cu_sc"}, "mark": {"type": "rule", "strokeWidth": 2.6},
 "encoding": {"x": {"field": "x", "type": "quantitative", "scale": {"domain": [-6.1, 6.907], "nice": false, "zero": false}, "axis": null},
  "y": {"datum": 29.3, "type": "quantitative", "scale": {"domain": [0, 313], "nice": false, "zero": false}, "axis": null}, "y2": {"datum": 41.6},
  "color": {"field": "band", "type": "nominal", "scale": {"domain": ["green","Cu","Ag","Au"], "range": ["#22a022","#e21b1b","#1b8ed4","#f7a600"]}, "legend": null}}},
{"data": {"name": "cu_dos"}, "mark": {"type": "line", "color": "#111", "strokeWidth": 1.3, "interpolate": "monotone", "clip": true},
 "encoding": {"x": {"field": "x", "type": "quantitative", "scale": {"domain": [-6.1, 6.907], "nice": false, "zero": false},
   "axis": {"orient": "bottom", "values": [-6,-5.5,-5,-4.5,-4,-3.5,-3,-2.5,-2,-1.5,-1,-0.5,0,0.5,1,1.5,2,2.5,3,3.5,4,4.5,5,5.5,6,6.5], "tickSize": {"condition": {"test": "datum.value % 2 === 0", "value": -10}, "value": -5}, "tickColor": "#333", "tickWidth": 1.3, "domainColor": "#333", "domainWidth": 1.5, "labelExpr": "datum.value % 2 === 0 ? (datum.value < 0 ? '-' + abs(datum.value) : '' + datum.value) : ''", "labelPadding": {"condition": {"test": "datum.value % 2 === 0", "value": 17.6}, "value": 12.6}, "labelFontSize": 28.5, "labelFont": "Liberation Sans", "labelColor": "#000", "labelOverlap": false, "labelFlush": false, "labelBound": false, "title": null, "grid": false}},
  "y": {"field": "y", "type": "quantitative", "scale": {"domain": [0, 313], "nice": false, "zero": false},
   "axis": {"orient": "left", "ticks": false, "labels": false, "grid": false, "domainColor": "#333", "domainWidth": 1.5, "title": "Intensity (arb. units)", "titleFontSize": 30.5, "titleFontWeight": "normal", "titleFont": "Liberation Sans", "titleColor": "#000", "titlePadding": 46.6, "titleOpacity": 0}}}},
{"data": {"name": "cu_line"}, "mark": {"type": "line", "color": "#e21b1b", "strokeWidth": 3, "interpolate": "monotone", "clip": true},
 "encoding": {"x": {"field": "x", "type": "quantitative", "scale": {"domain": [-6.1, 6.907], "nice": false, "zero": false},
   "axis": {"orient": "top", "values": [-6,-5.5,-5,-4.5,-4,-3.5,-3,-2.5,-2,-1.5,-1,-0.5,0,0.5,1,1.5,2,2.5,3,3.5,4,4.5,5,5.5,6,6.5], "tickSize": {"condition": {"test": "datum.value % 2 === 0", "value": -10}, "value": -5}, "tickColor": "#333", "tickWidth": 1.3, "domainColor": "#333", "domainWidth": 1.5, "labels": false, "title": null, "grid": false}},
  "y": {"field": "y", "type": "quantitative", "scale": {"domain": [0, 313], "nice": false, "zero": false}, "axis": null}}},
{"data": {"name": "cu_pts"}, "mark": {"type": "point", "shape": "circle", "filled": false, "size": 16, "color": "#333", "strokeWidth": 0.8, "opacity": 1, "clip": true},
 "encoding": {"x": {"field": "x", "type": "quantitative", "scale": {"domain": [-6.1, 6.907], "nice": false, "zero": false}, "axis": null},
  "y": {"field": "y", "type": "quantitative", "scale": {"domain": [0, 313], "nice": false, "zero": false}, "axis": null}}},
{"data": {"name": "cu_brk"}, "mark": {"type": "rule", "color": "#111", "strokeWidth": 1.5},
 "encoding": {"x": {"field": "x", "type": "quantitative", "scale": {"domain": [-6.1, 6.907], "nice": false, "zero": false}, "axis": null},
  "y": {"datum": 86.6, "type": "quantitative", "scale": {"domain": [0, 313], "nice": false, "zero": false}, "axis": null}, "y2": {"datum": 115}}},
{"data": {"name": "cu_brk"}, "mark": {"type": "rule", "color": "#111", "strokeWidth": 1.5},
 "encoding": {"x": {"aggregate": "min", "field": "x", "type": "quantitative", "scale": {"domain": [-6.1, 6.907], "nice": false, "zero": false}, "axis": null},
  "x2": {"aggregate": "max", "field": "x"},
  "y": {"datum": 109.3, "type": "quantitative", "scale": {"domain": [0, 313], "nice": false, "zero": false}, "axis": null}}},
{"data": {"name": "cu_brk"}, "mark": {"type": "point", "filled": true, "size": 100, "color": "#111", "opacity": 1},
 "encoding": {"x": {"field": "x", "type": "quantitative", "scale": {"domain": [-6.1, 6.907], "nice": false, "zero": false}, "axis": null},
  "y": {"datum": 109.3, "type": "quantitative", "scale": {"domain": [0, 313], "nice": false, "zero": false}, "axis": null},
  "shape": {"field": "end", "type": "nominal", "scale": {"domain": ["left", "right"], "range": ["M0,0L1.5,-0.55L1.5,0.55Z", "M0,0L-1.5,-0.55L-1.5,0.55Z"]}, "legend": null}}},
{"data": {"name": "cu_lab"}, "mark": {"type": "text", "fontSize": 23, "font": "Liberation Sans", "align": "center", "baseline": "alphabetic", "color": "#111"},
 "encoding": {"x": {"field": "x", "type": "quantitative", "scale": {"domain": [-6.1, 6.907], "nice": false, "zero": false}, "axis": null},
  "y": {"datum": 125, "type": "quantitative", "scale": {"domain": [0, 313], "nice": false, "zero": false}, "axis": null},
  "text": {"field": "text"}}},
{"data": {"name": "cu_name"}, "mark": {"type": "text", "fontSize": 28.5, "font": "Liberation Sans", "align": "center", "baseline": "alphabetic", "color": "#d04c1c"},
 "encoding": {"x": {"field": "x", "type": "quantitative", "scale": {"domain": [-6.1, 6.907], "nice": false, "zero": false}, "axis": null},
  "y": {"datum": 236, "type": "quantitative", "scale": {"domain": [0, 313], "nice": false, "zero": false}, "axis": null},
  "text": {"field": "text"}}}
]
},
{
"width": 401, "height": 310,
"resolve": {"axis": {"x": "independent", "y": "independent"}},
"layer": [
{"data": {"name": "ag_gauss"}, "mark": {"type": "area", "fillOpacity": 0.3, "interpolate": "monotone", "clip": true},
 "encoding": {"x": {"field": "x", "type": "quantitative", "scale": {"domain": [-6.1, 6.865], "nice": false, "zero": false}, "axis": null},
  "y": {"field": "y", "type": "quantitative", "stack": null, "scale": {"domain": [0, 310], "nice": false, "zero": false}, "axis": null},
  "y2": {"datum": 85.6},
  "color": {"field": "band", "type": "nominal", "scale": {"domain": ["green","Cu","Ag","Au"], "range": ["#22a022","#e21b1b","#1b8ed4","#f7a600"]}, "legend": null},
  "detail": {"field": "pk"}}},
{"data": {"name": "ag_gauss"}, "mark": {"type": "line", "strokeWidth": 1.5, "interpolate": "monotone", "clip": true},
 "encoding": {"x": {"field": "x", "type": "quantitative", "scale": {"domain": [-6.1, 6.865], "nice": false, "zero": false}, "axis": null},
  "y": {"field": "y", "type": "quantitative", "scale": {"domain": [0, 310], "nice": false, "zero": false}, "axis": null},
  "color": {"field": "band", "type": "nominal", "scale": {"domain": ["green","Cu","Ag","Au"], "range": ["#22a022","#e21b1b","#1b8ed4","#f7a600"]}, "legend": null},
  "detail": {"field": "pk"}}},
{"data": {"name": "ag_su"}, "mark": {"type": "rule", "strokeWidth": 2.6},
 "encoding": {"x": {"field": "x", "type": "quantitative", "scale": {"domain": [-6.1, 6.865], "nice": false, "zero": false}, "axis": null},
  "y": {"datum": 67.3, "type": "quantitative", "scale": {"domain": [0, 310], "nice": false, "zero": false}, "axis": null}, "y2": {"datum": 81.6},
  "color": {"field": "band", "type": "nominal", "scale": {"domain": ["green","Cu","Ag","Au"], "range": ["#22a022","#e21b1b","#1b8ed4","#f7a600"]}, "legend": null}}},
{"data": {"name": "ag_sb"}, "mark": {"type": "rule", "strokeWidth": 1.6, "color": "#111"},
 "encoding": {"x": {"field": "x", "type": "quantitative", "scale": {"domain": [-6.1, 6.865], "nice": false, "zero": false}, "axis": null},
  "y": {"datum": 28, "type": "quantitative", "scale": {"domain": [0, 310], "nice": false, "zero": false}, "axis": null}, "y2": {"datum": 40.5}}},
{"data": {"name": "ag_sc"}, "mark": {"type": "rule", "strokeWidth": 2.6},
 "encoding": {"x": {"field": "x", "type": "quantitative", "scale": {"domain": [-6.1, 6.865], "nice": false, "zero": false}, "axis": null},
  "y": {"datum": 28, "type": "quantitative", "scale": {"domain": [0, 310], "nice": false, "zero": false}, "axis": null}, "y2": {"datum": 40.5},
  "color": {"field": "band", "type": "nominal", "scale": {"domain": ["green","Cu","Ag","Au"], "range": ["#22a022","#e21b1b","#1b8ed4","#f7a600"]}, "legend": null}}},
{"data": {"name": "ag_dos"}, "mark": {"type": "line", "color": "#111", "strokeWidth": 1.3, "interpolate": "monotone", "clip": true},
 "encoding": {"x": {"field": "x", "type": "quantitative", "scale": {"domain": [-6.1, 6.865], "nice": false, "zero": false},
   "axis": {"orient": "bottom", "values": [-6,-5.5,-5,-4.5,-4,-3.5,-3,-2.5,-2,-1.5,-1,-0.5,0,0.5,1,1.5,2,2.5,3,3.5,4,4.5,5,5.5,6,6.5], "tickSize": {"condition": {"test": "datum.value % 2 === 0", "value": -10}, "value": -5}, "tickColor": "#333", "tickWidth": 1.3, "domainColor": "#333", "domainWidth": 1.5, "labelExpr": "datum.value % 2 === 0 ? (datum.value < 0 ? '-' + abs(datum.value) : '' + datum.value) : ''", "labelPadding": {"condition": {"test": "datum.value % 2 === 0", "value": 17.6}, "value": 12.6}, "labelFontSize": 28.5, "labelFont": "Liberation Sans", "labelColor": "#000", "labelOverlap": false, "labelFlush": false, "labelBound": false, "title": null, "grid": false}},
  "y": {"field": "y", "type": "quantitative", "scale": {"domain": [0, 310], "nice": false, "zero": false},
   "axis": {"orient": "left", "ticks": false, "labels": false, "grid": false, "domainColor": "#333", "domainWidth": 1.5, "title": "Intensity (arb. units)", "titleFontSize": 30.5, "titleFontWeight": "normal", "titleFont": "Liberation Sans", "titleColor": "#000", "titlePadding": 46.6, "titleOpacity": 1}}}},
{"data": {"name": "ag_line"}, "mark": {"type": "line", "color": "#1b8ed4", "strokeWidth": 3, "interpolate": "monotone", "clip": true},
 "encoding": {"x": {"field": "x", "type": "quantitative", "scale": {"domain": [-6.1, 6.865], "nice": false, "zero": false},
   "axis": {"orient": "top", "values": [-6,-5.5,-5,-4.5,-4,-3.5,-3,-2.5,-2,-1.5,-1,-0.5,0,0.5,1,1.5,2,2.5,3,3.5,4,4.5,5,5.5,6,6.5], "tickSize": {"condition": {"test": "datum.value % 2 === 0", "value": -10}, "value": -5}, "tickColor": "#333", "tickWidth": 1.3, "domainColor": "#333", "domainWidth": 1.5, "labels": false, "title": null, "grid": false}},
  "y": {"field": "y", "type": "quantitative", "scale": {"domain": [0, 310], "nice": false, "zero": false}, "axis": null}}},
{"data": {"name": "ag_pts"}, "mark": {"type": "point", "shape": "circle", "filled": false, "size": 16, "color": "#333", "strokeWidth": 0.8, "opacity": 1, "clip": true},
 "encoding": {"x": {"field": "x", "type": "quantitative", "scale": {"domain": [-6.1, 6.865], "nice": false, "zero": false}, "axis": null},
  "y": {"field": "y", "type": "quantitative", "scale": {"domain": [0, 310], "nice": false, "zero": false}, "axis": null}}},
{"data": {"name": "ag_brk"}, "mark": {"type": "rule", "color": "#111", "strokeWidth": 1.5},
 "encoding": {"x": {"field": "x", "type": "quantitative", "scale": {"domain": [-6.1, 6.865], "nice": false, "zero": false}, "axis": null},
  "y": {"datum": 90.6, "type": "quantitative", "scale": {"domain": [0, 310], "nice": false, "zero": false}, "axis": null}, "y2": {"datum": 125}}},
{"data": {"name": "ag_brk"}, "mark": {"type": "rule", "color": "#111", "strokeWidth": 1.5},
 "encoding": {"x": {"aggregate": "min", "field": "x", "type": "quantitative", "scale": {"domain": [-6.1, 6.865], "nice": false, "zero": false}, "axis": null},
  "x2": {"aggregate": "max", "field": "x"},
  "y": {"datum": 121.6, "type": "quantitative", "scale": {"domain": [0, 310], "nice": false, "zero": false}, "axis": null}}},
{"data": {"name": "ag_brk"}, "mark": {"type": "point", "filled": true, "size": 100, "color": "#111", "opacity": 1},
 "encoding": {"x": {"field": "x", "type": "quantitative", "scale": {"domain": [-6.1, 6.865], "nice": false, "zero": false}, "axis": null},
  "y": {"datum": 121.6, "type": "quantitative", "scale": {"domain": [0, 310], "nice": false, "zero": false}, "axis": null},
  "shape": {"field": "end", "type": "nominal", "scale": {"domain": ["left", "right"], "range": ["M0,0L1.5,-0.55L1.5,0.55Z", "M0,0L-1.5,-0.55L-1.5,0.55Z"]}, "legend": null}}},
{"data": {"name": "ag_lab"}, "mark": {"type": "text", "fontSize": 23, "font": "Liberation Sans", "align": "center", "baseline": "alphabetic", "color": "#111"},
 "encoding": {"x": {"field": "x", "type": "quantitative", "scale": {"domain": [-6.1, 6.865], "nice": false, "zero": false}, "axis": null},
  "y": {"datum": 137.3, "type": "quantitative", "scale": {"domain": [0, 310], "nice": false, "zero": false}, "axis": null},
  "text": {"field": "text"}}},
{"data": {"name": "ag_name"}, "mark": {"type": "text", "fontSize": 28.5, "font": "Liberation Sans", "align": "center", "baseline": "alphabetic", "color": "#1b8ed4"},
 "encoding": {"x": {"field": "x", "type": "quantitative", "scale": {"domain": [-6.1, 6.865], "nice": false, "zero": false}, "axis": null},
  "y": {"datum": 230, "type": "quantitative", "scale": {"domain": [0, 310], "nice": false, "zero": false}, "axis": null},
  "text": {"field": "text"}}}
]
},
{
"width": 401, "height": 318,
"resolve": {"axis": {"x": "independent", "y": "independent"}},
"layer": [
{"data": {"name": "au_gauss"}, "mark": {"type": "area", "fillOpacity": 0.3, "interpolate": "monotone", "clip": true},
 "encoding": {"x": {"field": "x", "type": "quantitative", "scale": {"domain": [-6.1, 6.732], "nice": false, "zero": false}, "axis": null},
  "y": {"field": "y", "type": "quantitative", "stack": null, "scale": {"domain": [0, 318], "nice": false, "zero": false}, "axis": null},
  "y2": {"datum": 94},
  "color": {"field": "band", "type": "nominal", "scale": {"domain": ["green","Cu","Ag","Au"], "range": ["#22a022","#e21b1b","#1b8ed4","#f7a600"]}, "legend": null},
  "detail": {"field": "pk"}}},
{"data": {"name": "au_gauss"}, "mark": {"type": "line", "strokeWidth": 1.5, "interpolate": "monotone", "clip": true},
 "encoding": {"x": {"field": "x", "type": "quantitative", "scale": {"domain": [-6.1, 6.732], "nice": false, "zero": false}, "axis": null},
  "y": {"field": "y", "type": "quantitative", "scale": {"domain": [0, 318], "nice": false, "zero": false}, "axis": null},
  "color": {"field": "band", "type": "nominal", "scale": {"domain": ["green","Cu","Ag","Au"], "range": ["#22a022","#e21b1b","#1b8ed4","#f7a600"]}, "legend": null},
  "detail": {"field": "pk"}}},
{"data": {"name": "au_su"}, "mark": {"type": "rule", "strokeWidth": 2.6},
 "encoding": {"x": {"field": "x", "type": "quantitative", "scale": {"domain": [-6.1, 6.732], "nice": false, "zero": false}, "axis": null},
  "y": {"datum": 76.7, "type": "quantitative", "scale": {"domain": [0, 318], "nice": false, "zero": false}, "axis": null}, "y2": {"datum": 91},
  "color": {"field": "band", "type": "nominal", "scale": {"domain": ["green","Cu","Ag","Au"], "range": ["#22a022","#e21b1b","#1b8ed4","#f7a600"]}, "legend": null}}},
{"data": {"name": "au_sb"}, "mark": {"type": "rule", "strokeWidth": 1.6, "color": "#111"},
 "encoding": {"x": {"field": "x", "type": "quantitative", "scale": {"domain": [-6.1, 6.732], "nice": false, "zero": false}, "axis": null},
  "y": {"datum": 29, "type": "quantitative", "scale": {"domain": [0, 318], "nice": false, "zero": false}, "axis": null}, "y2": {"datum": 42.7}}},
{"data": {"name": "au_sc"}, "mark": {"type": "rule", "strokeWidth": 2.6},
 "encoding": {"x": {"field": "x", "type": "quantitative", "scale": {"domain": [-6.1, 6.732], "nice": false, "zero": false}, "axis": null},
  "y": {"datum": 29, "type": "quantitative", "scale": {"domain": [0, 318], "nice": false, "zero": false}, "axis": null}, "y2": {"datum": 42.7},
  "color": {"field": "band", "type": "nominal", "scale": {"domain": ["green","Cu","Ag","Au"], "range": ["#22a022","#e21b1b","#1b8ed4","#f7a600"]}, "legend": null}}},
{"data": {"name": "au_dos"}, "mark": {"type": "line", "color": "#111", "strokeWidth": 1.3, "interpolate": "monotone", "clip": true},
 "encoding": {"x": {"field": "x", "type": "quantitative", "scale": {"domain": [-6.1, 6.732], "nice": false, "zero": false},
   "axis": {"orient": "bottom", "values": [-6,-5.5,-5,-4.5,-4,-3.5,-3,-2.5,-2,-1.5,-1,-0.5,0,0.5,1,1.5,2,2.5,3,3.5,4,4.5,5,5.5,6,6.5], "tickSize": {"condition": {"test": "datum.value % 2 === 0", "value": -10}, "value": -5}, "tickColor": "#333", "tickWidth": 1.3, "domainColor": "#333", "domainWidth": 1.5, "labelExpr": "datum.value % 2 === 0 ? (datum.value < 0 ? '-' + abs(datum.value) : '' + datum.value) : ''", "labelPadding": {"condition": {"test": "datum.value % 2 === 0", "value": 17.6}, "value": 12.6}, "labelFontSize": 28.5, "labelFont": "Liberation Sans", "labelColor": "#000", "labelOverlap": false, "labelFlush": false, "labelBound": false, "grid": false,
    "title": "E-E\u00a0\u00a0\u2009(eV)", "titleFontSize": 30.5, "titleFontStyle": "italic", "titleFontWeight": "normal", "titleFont": "Liberation Sans", "titleColor": "#000", "titlePadding": 14, "titleX": 208}},
  "y": {"field": "y", "type": "quantitative", "scale": {"domain": [0, 318], "nice": false, "zero": false},
   "axis": {"orient": "left", "ticks": false, "labels": false, "grid": false, "domainColor": "#333", "domainWidth": 1.5, "title": "Intensity (arb. units)", "titleFontSize": 30.5, "titleFontWeight": "normal", "titleFont": "Liberation Sans", "titleColor": "#000", "titlePadding": 46.6, "titleOpacity": 0}}}},
{"data": {"name": "au_line"}, "mark": {"type": "line", "color": "#f7a600", "strokeWidth": 3, "interpolate": "monotone", "clip": true},
 "encoding": {"x": {"field": "x", "type": "quantitative", "scale": {"domain": [-6.1, 6.732], "nice": false, "zero": false},
   "axis": {"orient": "top", "values": [-6,-5.5,-5,-4.5,-4,-3.5,-3,-2.5,-2,-1.5,-1,-0.5,0,0.5,1,1.5,2,2.5,3,3.5,4,4.5,5,5.5,6,6.5], "tickSize": {"condition": {"test": "datum.value % 2 === 0", "value": -10}, "value": -5}, "tickColor": "#333", "tickWidth": 1.3, "domainColor": "#333", "domainWidth": 1.5, "labels": false, "title": null, "grid": false}},
  "y": {"field": "y", "type": "quantitative", "scale": {"domain": [0, 318], "nice": false, "zero": false}, "axis": null}}},
{"data": {"name": "au_pts"}, "mark": {"type": "point", "shape": "circle", "filled": false, "size": 16, "color": "#333", "strokeWidth": 0.8, "opacity": 1, "clip": true},
 "encoding": {"x": {"field": "x", "type": "quantitative", "scale": {"domain": [-6.1, 6.732], "nice": false, "zero": false}, "axis": null},
  "y": {"field": "y", "type": "quantitative", "scale": {"domain": [0, 318], "nice": false, "zero": false}, "axis": null}}},
{"data": {"name": "au_brk"}, "mark": {"type": "rule", "color": "#111", "strokeWidth": 1.5},
 "encoding": {"x": {"field": "x", "type": "quantitative", "scale": {"domain": [-6.1, 6.732], "nice": false, "zero": false}, "axis": null},
  "y": {"datum": 81.7, "type": "quantitative", "scale": {"domain": [0, 318], "nice": false, "zero": false}, "axis": null}, "y2": {"datum": 123.4}}},
{"data": {"name": "au_brk"}, "mark": {"type": "rule", "color": "#111", "strokeWidth": 1.5},
 "encoding": {"x": {"aggregate": "min", "field": "x", "type": "quantitative", "scale": {"domain": [-6.1, 6.732], "nice": false, "zero": false}, "axis": null},
  "x2": {"aggregate": "max", "field": "x"},
  "y": {"datum": 119.4, "type": "quantitative", "scale": {"domain": [0, 318], "nice": false, "zero": false}, "axis": null}}},
{"data": {"name": "au_brk"}, "mark": {"type": "point", "filled": true, "size": 100, "color": "#111", "opacity": 1},
 "encoding": {"x": {"field": "x", "type": "quantitative", "scale": {"domain": [-6.1, 6.732], "nice": false, "zero": false}, "axis": null},
  "y": {"datum": 119.4, "type": "quantitative", "scale": {"domain": [0, 318], "nice": false, "zero": false}, "axis": null},
  "shape": {"field": "end", "type": "nominal", "scale": {"domain": ["left", "right"], "range": ["M0,0L1.5,-0.55L1.5,0.55Z", "M0,0L-1.5,-0.55L-1.5,0.55Z"]}, "legend": null}}},
{"data": {"name": "au_lab"}, "mark": {"type": "text", "fontSize": 23, "font": "Liberation Sans", "align": "center", "baseline": "alphabetic", "color": "#111"},
 "encoding": {"x": {"field": "x", "type": "quantitative", "scale": {"domain": [-6.1, 6.732], "nice": false, "zero": false}, "axis": null},
  "y": {"datum": 135, "type": "quantitative", "scale": {"domain": [0, 318], "nice": false, "zero": false}, "axis": null},
  "text": {"field": "text"}}},
{"data": {"name": "au_name"}, "mark": {"type": "text", "fontSize": 28.5, "font": "Liberation Sans", "align": "center", "baseline": "alphabetic", "color": "#f7a600"},
 "encoding": {"x": {"field": "x", "type": "quantitative", "scale": {"domain": [-6.1, 6.732], "nice": false, "zero": false}, "axis": null},
  "y": {"datum": 231.7, "type": "quantitative", "scale": {"domain": [0, 318], "nice": false, "zero": false}, "axis": null},
  "text": {"field": "text"}}},
{"data": {"name": "au_sub"}, "mark": {"type": "text", "fontSize": 17, "font": "Liberation Sans", "fontStyle": "italic", "align": "center", "baseline": "alphabetic", "color": "#000", "clip": false},
 "encoding": {"x": {"field": "x", "type": "quantitative", "scale": {"domain": [-6.1, 6.732], "nice": false, "zero": false}, "axis": null},
  "y": {"datum": -77, "type": "quantitative", "scale": {"domain": [0, 318], "nice": false, "zero": false}, "axis": null},
  "text": {"field": "text"}}}
]
}
]
}
